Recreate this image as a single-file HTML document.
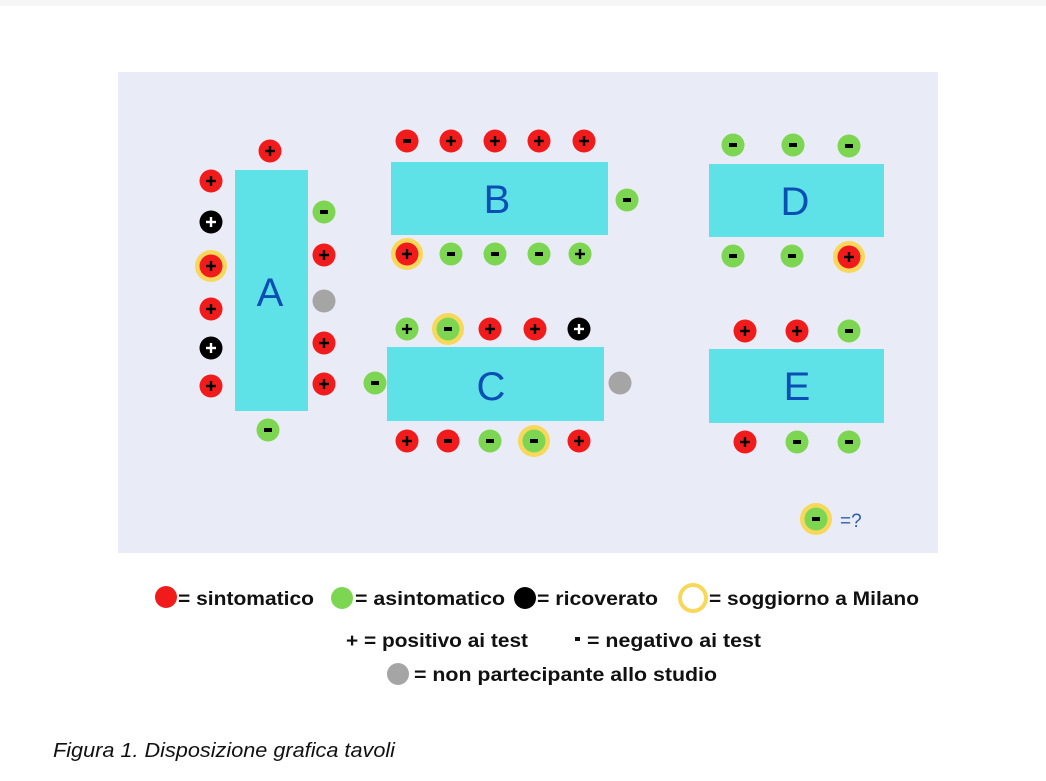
<!DOCTYPE html>
<html><head><meta charset="utf-8"><style>
html,body{margin:0;padding:0;background:#fff;}
svg{display:block;}
.s{font-family:"Liberation Sans",sans-serif;font-weight:bold;font-size:15px;text-anchor:middle;}
.t{font-family:"Liberation Sans",sans-serif;font-size:40px;fill:#0a4fb4;text-anchor:middle;}
.l{font-family:"Liberation Sans",sans-serif;font-weight:bold;font-size:19px;fill:#111;}
</style></head><body>
<svg width="1046" height="781" viewBox="0 0 1046 781" xmlns="http://www.w3.org/2000/svg">
<defs>
<g id="R"><circle r="11.5" fill="#f21b1b"/></g>
<g id="G"><circle r="11.5" fill="#7dd651"/></g>
<g id="K"><circle r="11.5" fill="#000"/></g>
<g id="Y"><circle r="16" fill="#f8d85a"/></g>
<g id="M"><rect x="-4" y="-2" width="8" height="4" fill="#000"/></g>
<g id="P"><rect x="-5" y="-1.2" width="10" height="2.4" fill="#000"/><rect x="-1.2" y="-5" width="2.4" height="10" fill="#000"/></g>
<g id="W"><rect x="-5" y="-1.2" width="10" height="2.4" fill="#fff"/><rect x="-1.2" y="-5" width="2.4" height="10" fill="#fff"/></g>
<g id="Rp"><use href="#R"/><use href="#P"/></g>
<g id="Rm"><use href="#R"/><use href="#M"/></g>
<g id="Gp"><use href="#G"/><use href="#P"/></g>
<g id="Gm"><use href="#G"/><use href="#M"/></g>
<g id="Kp"><use href="#K"/><use href="#W"/></g>
</defs>
<rect x="0" y="0" width="1046" height="6" fill="#f6f6f6"/>
<rect x="118" y="72" width="820" height="481" fill="#e9ecf6"/>
<!-- tables -->
<rect x="235" y="170" width="73" height="241" fill="#5fe1e8"/>
<text class="t" x="270" y="306">A</text>
<rect x="391" y="162" width="217" height="73" fill="#5fe1e8"/>
<text class="t" x="497" y="213">B</text>
<rect x="387" y="347" width="217" height="74" fill="#5fe1e8"/>
<text class="t" x="491" y="400">C</text>
<rect x="709" y="164" width="175" height="73" fill="#5fe1e8"/>
<text class="t" x="795" y="215">D</text>
<rect x="709" y="349" width="175" height="74" fill="#5fe1e8"/>
<text class="t" x="797" y="400">E</text>
<!-- A -->
<use href="#Rp" x="270" y="151"/>
<use href="#Rp" x="211" y="181"/>
<use href="#Kp" x="211" y="222"/>
<use href="#Y" x="211" y="266"/><use href="#Rp" x="211" y="266"/>
<use href="#Rp" x="211" y="309"/>
<use href="#Kp" x="211" y="348"/>
<use href="#Rp" x="211" y="386"/>
<use href="#Gm" x="324" y="212"/>
<use href="#Rp" x="324" y="255"/>
<circle cx="324" cy="301" r="11.5" fill="#a5a5a5"/>
<use href="#Rp" x="324" y="343"/>
<use href="#Rp" x="324" y="384"/>
<use href="#Gm" x="268" y="430"/>
<!-- B -->
<use href="#Rm" x="407" y="141"/>
<use href="#Rp" x="451" y="141"/>
<use href="#Rp" x="495" y="141"/>
<use href="#Rp" x="539" y="141"/>
<use href="#Rp" x="584" y="141"/>
<use href="#Gm" x="627" y="200"/>
<use href="#Y" x="407" y="254"/><use href="#Rp" x="407" y="254"/>
<use href="#Gm" x="451" y="254"/>
<use href="#Gm" x="495" y="254"/>
<use href="#Gm" x="539" y="254"/>
<use href="#Gp" x="580" y="254"/>
<!-- C -->
<use href="#Gp" x="407" y="329"/>
<use href="#Y" x="448" y="329"/><use href="#Gm" x="448" y="329"/>
<use href="#Rp" x="490" y="329"/>
<use href="#Rp" x="535" y="329"/>
<use href="#Kp" x="579" y="329"/>
<use href="#Gm" x="375" y="383"/>
<circle cx="620" cy="383" r="11.5" fill="#a5a5a5"/>
<use href="#Rp" x="407" y="441"/>
<use href="#Rm" x="448" y="441"/>
<use href="#Gm" x="490" y="441"/>
<use href="#Y" x="534" y="441"/><use href="#Gm" x="534" y="441"/>
<use href="#Rp" x="579" y="441"/>
<!-- D -->
<use href="#Gm" x="733" y="145"/>
<use href="#Gm" x="793" y="145"/>
<use href="#Gm" x="849" y="146"/>
<use href="#Gm" x="733" y="256"/>
<use href="#Gm" x="792" y="256"/>
<use href="#Y" x="849" y="257"/><use href="#Rp" x="849" y="257"/>
<!-- E -->
<use href="#Rp" x="745" y="331"/>
<use href="#Rp" x="797" y="331"/>
<use href="#Gm" x="849" y="331"/>
<use href="#Rp" x="745" y="442"/>
<use href="#Gm" x="797" y="442"/>
<use href="#Gm" x="849" y="442"/>
<use href="#Y" x="816" y="519"/><use href="#Gm" x="816" y="519"/>
<text x="840" y="527" font-family="Liberation Sans, sans-serif" font-size="19" fill="#2a5cb0">=?</text>
<!-- legend -->
<circle cx="166" cy="597" r="11" fill="#f21b1b"/>
<text class="l" x="178" y="605" textLength="136" lengthAdjust="spacingAndGlyphs">= sintomatico</text>
<circle cx="342" cy="598" r="11" fill="#7dd651"/>
<text class="l" x="355" y="605" textLength="150" lengthAdjust="spacingAndGlyphs">= asintomatico</text>
<circle cx="525" cy="598" r="11" fill="#000"/>
<text class="l" x="537" y="605" textLength="121" lengthAdjust="spacingAndGlyphs">= ricoverato</text>
<circle cx="693" cy="598" r="13" fill="none" stroke="#f8d85a" stroke-width="4"/>
<text class="l" x="709" y="605" textLength="210" lengthAdjust="spacingAndGlyphs">= soggiorno a Milano</text>
<text class="l" x="346" y="647" textLength="182" lengthAdjust="spacingAndGlyphs">+ = positivo ai test</text>
<rect x="575" y="637" width="5" height="4" fill="#111"/>
<text class="l" x="587" y="647" textLength="174" lengthAdjust="spacingAndGlyphs">= negativo ai test</text>
<circle cx="398" cy="674" r="11" fill="#a5a5a5"/>
<text class="l" x="414" y="681" textLength="303" lengthAdjust="spacingAndGlyphs">= non partecipante allo studio</text>
<text x="53" y="757" font-family="Liberation Sans, sans-serif" font-style="italic" font-size="20" fill="#111" textLength="342" lengthAdjust="spacingAndGlyphs">Figura 1. Disposizione grafica tavoli</text>
</svg>
</body></html>
